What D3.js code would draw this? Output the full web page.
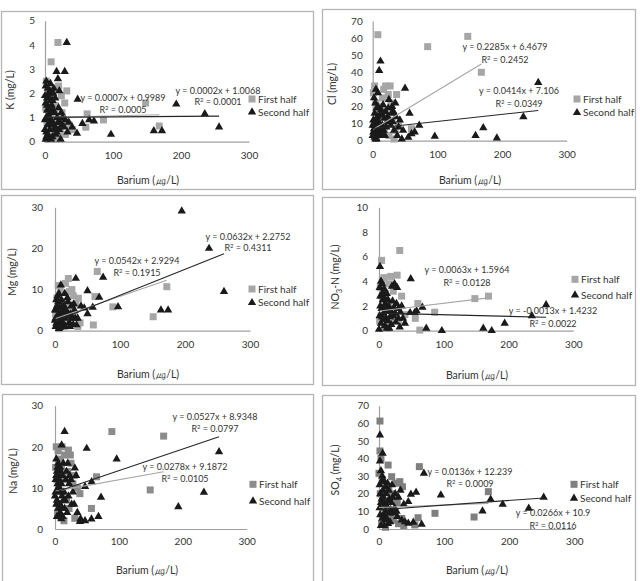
<!DOCTYPE html>
<html><head><meta charset="utf-8">
<script src="https://cdn.jsdelivr.net/npm/d3@7"></script>
<style>
body{margin:0;background:#fff}
svg{display:block}
text{font-family:Lato,"Open Sans",sans-serif;fill:#333}
</style>
</head><body>
<svg id="c" width="640" height="581"></svg>
<script>
// ---------- DATA ----------
const xTicks = [0, 100, 200, 300];
const seriesNames = ["First half", "Second half"];
const xTitle = "Barium (㎍/L)";

// K (mg/L)
const kFirst = [[19,4.1],[9,3.3],[32,2.1],[29,1.6],[2,2.5],[20,2.3],[12,2.0],[5,1.8],[15,1.5],[25,1.2],[8,1.0],[3,0.8],[18,0.6],[10,0.4],[22,0.3],[6,0.2],[14,1.2],[27,0.9],[35,0.7],[40,0.5],[1,1.4],[4,0.1],[62,1.15],[86,0.9],[148,1.6],[168,0.65],[60,0.6],[30,0.3],[16,0.1],[24,1.9],[7,2.2],[11,1.7],[17,0.9],[23,0.6]];
const kSecond = [[32,4.1],[17,2.9],[29,2.9],[19,2.6],[21,2.1],[2,2.5],[1,2.3],[4,2.2],[6,2.0],[3,1.8],[8,1.7],[10,1.5],[12,1.3],[14,1.2],[5,1.1],[7,1.0],[9,0.9],[11,0.8],[13,0.7],[15,0.6],[0,0.5],[2,0.4],[4,0.3],[6,0.2],[1,0.1],[18,1.0],[22,0.8],[25,0.7],[28,0.6],[20,1.4],[24,1.2],[16,0.3],[30,0.9],[35,0.8],[33,0.4],[47,0.35],[48,1.75],[55,0.75],[65,0.9],[72,0.85],[97,0.3],[160,0.45],[172,0.45],[193,1.55],[235,1.15],[256,0.6],[3,1.5],[5,0.7],[7,2.1],[9,1.2],[2,1.0],[11,0.2],[0,1.9],[0,0.9],[40,0.6],[1,1.6],[3,1.3],[5,1.9],[7,0.5],[9,0.1],[11,1.7],[13,2.2],[15,1.8],[17,0.4],[19,0.8],[21,0.5],[23,0.1],[26,1.0],[14,0.5],[8,2.4],[4,0.7],[2,0.2],[6,1.4],[10,0.7],[12,2.0]];
const kFit = [[0.0007, 0.9989, 0.0005], [0.0002, 1.0068, 0.0001]];

// Cl (mg/L)
const clFirst = [[8,62],[85,55],[147,61],[168,40],[3,32],[20,32],[27,32],[37,27],[15,25],[5,22],[10,18],[22,15],[30,12],[2,10],[12,8],[18,5],[25,3],[6,2],[35,6],[40,9],[1,28],[14,20],[28,22],[60,7],[33,1],[17,30],[24,27],[9,14],[4,5]];
const clSecond = [[12,46.5],[10,41],[5,30],[8,28],[50,30.6],[57,16],[72,9],[96,2.5],[159,3],[171,7.5],[192,1.5],[233,14],[256,34],[25,24],[35,22],[30,20],[40,8],[47,6],[60,4],[65,5],[55,2],[45,1],[20,17],[15,15],[2,25],[4,22],[6,19],[3,16],[7,14],[1,12],[9,11],[11,10],[13,8],[2,7],[5,6],[8,5],[10,4],[12,3],[3,2],[6,1],[18,13],[22,11],[28,9],[33,6],[38,3],[16,21],[24,19],[32,17],[0,9],[14,4],[1,5],[3,9],[5,12],[7,3],[9,7],[11,15],[13,18],[15,9],[17,6],[19,3],[21,8],[23,14],[26,12],[29,16],[31,11],[36,14],[42,12],[0,3],[4,1],[8,20]];
const clFit = [[0.2285, 6.4679, 0.2452], [0.0414, 7.106, 0.0349]];

// Mg (mg/L)
const mgFirst = [[65,14.4],[20.5,12.7],[89,5.8],[172,10.7],[151,3.4],[59,1.4],[38.5,1.9],[36,7.9],[61.5,8.3],[5,11],[8,10],[22,9.5],[3,8],[12,7],[18,6],[25,5],[30,4],[2,3],[10,2],[15,1],[6,0.5],[28,8.5],[32,6.5],[4,5.5],[1,4],[14,3],[20,2],[35,1],[9,6],[16,11.5],[26,10]];
const mgSecond = [[195,29.1],[237,20],[260,9.5],[163,5],[174,5],[97,5.8],[74,13],[68,8.1],[50,9.7],[50,4.1],[58,5.7],[32,12.7],[33,1.4],[9,11.1],[2,7.5],[5,7],[15,9],[20,7],[25,6],[40,6],[30,5],[12,5],[8,4],[3,3],[18,3.5],[22,2],[28,1.5],[1,1],[6,0.5],[10,2.5],[14,6],[4,8.5],[0,5],[16,1],[35,3],[45,5.5],[7,2],[11,3.5],[13,1.5],[24,4],[2,1.8],[0,2.5],[1,3],[3,6],[5,4],[7,5.5],[9,2],[11,6],[13,4.5],[15,3],[17,5],[19,8],[21,4],[23,1],[26,3],[29,6.5],[31,3],[6,9],[2,5],[4,1.5],[10,7.5],[8,0.8]];
const mgFit = [[0.0542, 2.9294, 0.1915], [0.0632, 2.2752, 0.4311]];

// NO3-N (mg/L)
const noFirst = [[4,5.7],[7.6,4.3],[32,6.5],[28,4.5],[18,4.4],[35,2.8],[60,2.2],[63,0.05],[86,1.5],[148,2.6],[169,2.8],[56,1.0],[2,3.5],[10,3],[15,2],[20,1.5],[25,1],[12,0.5],[6,2.5],[3,1.2],[8,0.3],[22,3.2],[30,0.8],[40,1.3],[14,0.2],[1,0.8],[5,4.0],[16,3.8]];
const noSecond = [[1.5,5.2],[49,4.2],[67,1.9],[73,0.2],[97,0],[161,0.2],[174,0],[194,0.6],[236,1.2],[258,2.1],[48,1.46],[55,1.46],[30,1.8],[32,0.3],[37,1.0],[3,4],[5,3.8],[24,3.8],[28,3.5],[20,3.6],[8,3.4],[12,3],[2,2.8],[6,2.5],[10,2.2],[15,2],[4,1.8],[18,1.6],[7,1.4],[1,1.2],[11,1],[14,0.8],[3,0.6],[9,0.4],[16,0.2],[0,0.1],[22,1.2],[26,0.7],[35,2.0],[40,0.6],[58,1.6],[1,3.5],[2,2],[4,2.8],[5,1.1],[6,3.1],[7,0.9],[8,2.0],[9,2.6],[10,1.6],[12,0.2],[13,1.8],[14,2.5],[17,1.1],[19,0.5],[21,2.4],[23,1.9],[25,1.4],[27,2.2],[30,1.0],[33,1.5]];
const noFit = [[0.0063, 1.5964, 0.0128], [-0.0013, 1.4232, 0.0022]];

// Na (mg/L)
const naFirst = [[89,23.7],[170,22.6],[149,9.5],[57,5],[65,12.7],[39,8.6],[31,2.6],[21,19.2],[2,20],[5,19],[8,17],[10,15],[15,18],[20,14],[25,16],[30,13],[3,12],[6,10],[12,9],[18,7],[22,5],[4,4],[9,3],[14,2],[1,15],[28,11],[35,10],[16,12],[7,6],[11,20],[24,18]];
const naSecond = [[15,23.7],[10.4,20.4],[49.6,19.6],[96.5,17],[256.7,18.8],[233,8.9],[193,5.4],[72,7.7],[57.4,11.5],[47,10.3],[68,3],[57,2.4],[47,2.0],[39,1.8],[31,14.8],[2,17],[5,16],[8,15],[3,14],[6,13],[1,12],[4,11],[7,10],[9,9],[11,8],[13,7],[2,6],[5,5],[8,4],[3,3],[10,2.5],[20,16],[25,12],[28,9],[30,6],[35,4],[33,13],[22,11],[18,14],[15,5],[12,3],[40,2.5],[0,8],[1,9],[2,13],[3,7],[4,15],[5,10],[6,3],[7,12],[8,6],[9,14],[10,11],[11,5],[12,13],[13,16],[14,9],[16,7],[17,12],[19,4],[21,8],[23,13],[26,6]];
const naFit = [[0.0278, 9.1872, 0.0105], [0.0527, 8.9348, 0.0797]];

// SO4 (mg/L)
const soFirst = [[1.5,61.3],[1.5,44.3],[14,36.3],[62,35.4],[32,26.9],[168,21.2],[86,8.9],[146,6.8],[60,6.4],[55,2.3],[0,31.6],[19.5,29.7],[3,40],[5,28],[10,25],[15,22],[20,20],[25,18],[28,15],[2,20],[6,15],[8,12],[12,10],[18,8],[22,5],[30,3],[35,6],[4,3],[10,1],[38,2],[26,26],[36,24]];
const soSecond = [[1.5,53.3],[5.6,43],[1.5,38.6],[69,31.6],[57,20.8],[49,19.7],[45,15.5],[95,19.3],[171.5,16.8],[190,14],[230,11.7],[253,18],[159,10.2],[65.5,2.6],[52.7,3.8],[45,3.2],[3,33],[5,30],[8,27],[10,24],[15,22],[20,25],[25,20],[30,18],[2,20],[4,17],[6,15],[12,13],[18,11],[22,9],[28,7],[35,5],[1,12],[7,8],[9,5],[14,3],[3,2],[33,22],[38,14],[16,17],[40,4],[1,25],[2,8],[3,15],[4,27],[5,6],[6,22],[7,18],[8,2],[9,14],[10,10],[11,20],[12,6],[13,26],[14,16],[16,9],[17,4],[19,15],[21,18],[24,12],[27,10]];
const soFit = [[0.0136, 12.239, 0.0009], [0.0266, 10.9, 0.0116]];

// y-axis maxima and steps
const yMaxes = [5, 70, 30, 10, 30, 70];
const ySteps = [1, 10, 10, 2, 10, 10];

// ---------- LAYOUT ----------
const panels = [
  {first:kFirst, second:kSecond, fit:kFit, ymax:yMaxes[0], step:ySteps[0], title:["K (mg/L)"],
   frame:[1,11,313,189], px:[45,249], py:[141.7,20.7], xtY:156, xtitle:[148,180], ytitle:[10,90], ytOff:10,
   eq:[[123,98,110],[218,91,102]], leg:[252,99,112], sqColor:"#a6a6a6"},
  {first:clFirst, second:clSecond, fit:clFit, ymax:yMaxes[1], step:ySteps[1], title:["Cl (mg/L)"],
   frame:[322,9,635,189], px:[372.7,566.7], py:[140.7,21], xtY:155, xtitle:[470,180], ytitle:[332,84], ytOff:10,
   eq:[[505,47,60],[519,91,104]], leg:[577,99,112.7], sqColor:"#a6a6a6"},
  {first:mgFirst, second:mgSecond, fit:mgFit, ymax:yMaxes[2], step:ySteps[2], title:["Mg (mg/L)"],
   frame:[1,195,313,384], px:[55,250], py:[330.7,207.3], xtY:345, xtitle:[148,374], ytitle:[12,272], ytOff:12,
   eq:[[137,261,272.7],[248,236.7,248.3]], leg:[252,289,302.7], sqColor:"#a6a6a6"},
  {first:noFirst, second:noSecond, fit:noFit, ymax:yMaxes[3], step:ySteps[3], title:["NO","3","-N (mg/L)"],
   frame:[322,197,635,385], px:[379,573.3], py:[330.7,207.3], xtY:345, xtitle:[477,375], ytitle:[335,277], ytOff:11,
   eq:[[467,270,283.3],[553,310.7,324]], leg:[575,279.3,295], sqColor:"#a6a6a6"},
  {first:naFirst, second:naSecond, fit:naFit, ymax:yMaxes[4], step:ySteps[4], title:["Na (mg/L)"],
   frame:[2,394,313,585], px:[55,246.7], py:[529,405.7], xtY:541.7, xtitle:[147,570], ytitle:[13,471], ytOff:12,
   eq:[[185,466.7,479],[215,417.3,429.3]], leg:[253,484.3,501], sqColor:"#8c8c8c"},
  {first:soFirst, second:soSecond, fit:soFit, ymax:yMaxes[5], step:ySteps[5], title:["SO","4"," (mg/L)"],
   frame:[322,395,635,585], px:[379,574.3], py:[529,405.7], xtY:541.7, xtitle:[477,570], ytitle:[335,470], ytOff:10,
   eq:[[470,471.7,484.3],[553,513.3,525.7]], leg:[574,484.3,498.3], sqColor:"#7f7f7f"}
];

const svg = d3.select("#c");
const axisColor = "#a0a0a0";
const triColor = "#1a1a1a";
const triPath = d3.symbol(d3.symbolTriangle, 30)();

panels.forEach(p => {
  const g = svg.append("g");
  const [fx0, fy0, fx1, fy1] = p.frame;
  g.append("rect").attr("x", fx0 + 0.5).attr("y", fy0 + 0.5)
    .attr("width", fx1 - fx0).attr("height", fy1 - fy0)
    .attr("fill", "#fff").attr("stroke", "#b4b4b4").attr("stroke-width", 1.3);

  const x = d3.scaleLinear().domain([0, 300]).range(p.px);
  const y = d3.scaleLinear().domain([0, p.ymax]).range(p.py);

  // axes (Excel style, no tick marks)
  const xa = g.append("g").attr("transform", `translate(0,${y(0)})`)
    .call(d3.axisBottom(x).tickValues(xTicks).tickSize(0).tickPadding(0));
  xa.select(".domain").attr("stroke", axisColor).attr("stroke-width", 1.2);
  xa.selectAll("text").attr("y", p.xtY - y(0)).attr("dy", "0.35em")
    .style("font-size", "10px").attr("fill", "#333");

  const yTicks = d3.range(0, p.ymax + p.step / 2, p.step);
  const ya = g.append("g").attr("transform", `translate(${x(0)},0)`)
    .call(d3.axisLeft(y).tickValues(yTicks).tickSize(0).tickPadding(p.ytOff).tickFormat(d3.format("d")));
  ya.select(".domain").attr("stroke", axisColor).attr("stroke-width", 1.2);
  ya.selectAll("text").style("font-size", "10px").attr("fill", "#333");

  // axis titles
  g.append("text").attr("x", p.xtitle[0]).attr("y", p.xtitle[1]).attr("dy", "0.35em")
    .attr("text-anchor", "middle").style("font-size", "10.5px").text(xTitle);
  const yt = g.append("text").attr("transform", `translate(${p.ytitle[0]},${p.ytitle[1]}) rotate(-90)`)
    .attr("dy", "0.35em").attr("text-anchor", "middle").style("font-size", "10.5px");
  if (p.title.length === 1) yt.text(p.title[0]);
  else {
    yt.append("tspan").text(p.title[0]);
    yt.append("tspan").attr("dy", 3).style("font-size", "7.5px").text(p.title[1]);
    yt.append("tspan").attr("dy", -3).text(p.title[2]);
  }

  // markers: first half squares, second half triangles
  const s = 7;
  g.append("g").selectAll("rect").data(p.first).join("rect")
    .attr("x", d => x(d[0]) - s / 2).attr("y", d => y(d[1]) - s / 2)
    .attr("width", s).attr("height", s).attr("fill", p.sqColor);
  g.append("g").selectAll("path").data(p.second).join("path")
    .attr("d", triPath).attr("transform", d => `translate(${x(d[0])},${y(d[1])})`)
    .attr("fill", triColor);

  // linear trendlines from the printed equations
  [p.first, p.second].forEach((ser, i) => {
    const [m, b] = p.fit[i];
    const ext = d3.extent(ser, d => d[0]);
    g.append("line")
      .attr("x1", x(ext[0])).attr("y1", y(m * ext[0] + b))
      .attr("x2", x(ext[1])).attr("y2", y(m * ext[1] + b))
      .attr("stroke", i === 0 ? "#a6a6a6" : "#262626").attr("stroke-width", 1.1);
  });

  // equation labels
  p.fit.forEach((f, i) => {
    const [m, b, r2] = f;
    const [cx, ey, ry] = p.eq[i];
    g.append("text").attr("x", cx).attr("y", ey).attr("dy", "0.35em").attr("text-anchor", "middle")
      .style("font-size", "9px").text(`y = ${m}x + ${b}`);
    const rt = g.append("text").attr("x", cx).attr("y", ry).attr("dy", "0.35em").attr("text-anchor", "middle")
      .style("font-size", "9px");
    rt.append("tspan").text("R");
    rt.append("tspan").attr("dy", -3).style("font-size", "6px").text("2");
    rt.append("tspan").attr("dy", 3).text(` = ${r2.toFixed(4)}`);
  });

  // legend
  const [lx, ly1, ly2] = p.leg;
  g.append("rect").attr("x", lx - 3.5).attr("y", ly1 - 3.5).attr("width", 7).attr("height", 7).attr("fill", p.sqColor);
  g.append("path").attr("d", triPath).attr("transform", `translate(${lx},${ly2})`).attr("fill", triColor);
  g.append("text").attr("x", lx + 6).attr("y", ly1).attr("dy", "0.35em").style("font-size", "10px").text(seriesNames[0]);
  g.append("text").attr("x", lx + 6).attr("y", ly2).attr("dy", "0.35em").style("font-size", "10px").text(seriesNames[1]);
});
</script>
</body></html>
